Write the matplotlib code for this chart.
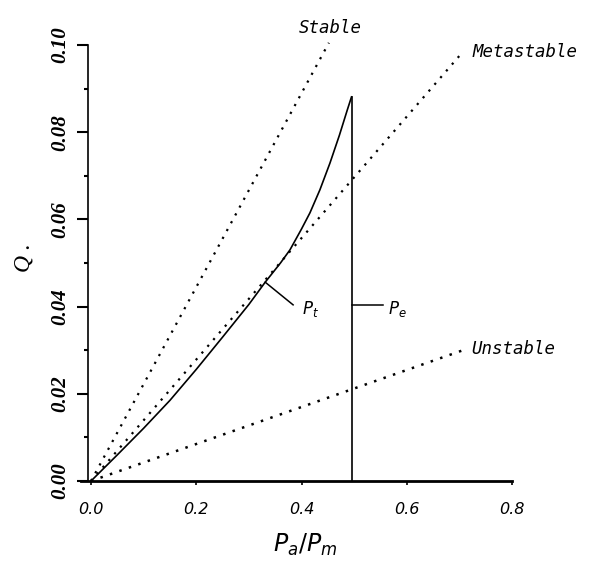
import matplotlib
matplotlib.use("Agg")
import matplotlib.pyplot as plt
from matplotlib.ticker import MultipleLocator

# ---- data ----
curve_x = [0.0, 0.05, 0.10, 0.15, 0.20, 0.25, 0.30, 0.331, 0.36, 0.378, 0.40,
           0.416, 0.435, 0.454, 0.472, 0.487, 0.495]
curve_y = [0.0, 0.0060, 0.0121, 0.0185, 0.0256, 0.0330, 0.0405, 0.0456, 0.0500,
           0.0530, 0.0578, 0.0615, 0.0668, 0.0729, 0.0793, 0.0851, 0.0881]

pe_x = [0.495, 0.495]
pe_y = [0.0, 0.0881]

stable_x = [0.0, 0.452]
stable_y = [0.0, 0.1005]
metastable_x = [0.0, 0.70]
metastable_y = [0.0, 0.0975]
unstable_x = [0.0, 0.707]
unstable_y = [0.0, 0.0300]

x_ticks = [0.0, 0.2, 0.4, 0.6, 0.8]
x_ticklabels = ["0.0", "0.2", "0.4", "0.6", "0.8"]
y_ticks = [0.00, 0.02, 0.04, 0.06, 0.08, 0.10]
y_ticklabels = ["0.00", "0.02", "0.04", "0.06", "0.08", "0.10"]

# ---- figure ----
fig = plt.figure(figsize=(5.97, 5.71), dpi=100)
W, H = 597, 571
ax = fig.add_axes([80.5 / W, 90 / H, (512 - 80.5) / W, (481 - 45) / H])
ax.set_xlim(-0.02, 0.80)
ax.set_ylim(0.0, 0.10)

dot = (0, (1, 3))
ax.plot(stable_x, stable_y, color="black", lw=1.6, linestyle=dot, clip_on=False)
ax.plot(metastable_x, metastable_y, color="black", lw=1.6, linestyle=dot, clip_on=False)
ax.plot(unstable_x, unstable_y, color="black", lw=1.8, linestyle=dot, clip_on=False)
ax.plot(curve_x, curve_y, color="black", lw=1.2, clip_on=False)
ax.plot(pe_x, pe_y, color="black", lw=1.2, clip_on=False)

# annotations
ax.plot([0.331, 0.384], [0.0456, 0.0404], color="black", lw=1.1)
ax.text(0.400, 0.0395, "$P_t$", fontsize=12, ha="left", va="center")
ax.plot([0.495, 0.555], [0.0404, 0.0404], color="black", lw=1.1)
ax.text(0.565, 0.0395, "$P_e$", fontsize=12, ha="left", va="center")

lab_kw = dict(fontsize=12.5, family="DejaVu Sans Mono", style="italic",
              ha="center", va="center")
ax.text(0.454, 0.1039, "Stable", **lab_kw)
ax.text(0.825, 0.0984, "Metastable", **lab_kw)
ax.text(0.802, 0.0303, "Unstable", **lab_kw)

# spines
for s in ("top", "right"):
    ax.spines[s].set_visible(False)
ax.spines["left"].set_position(("data", -0.006))
ax.spines["left"].set_linewidth(1.2)
ax.spines["bottom"].set_linewidth(2.0)

# ticks
ax.set_xticks(x_ticks)
ax.set_xticklabels(x_ticklabels, fontsize=11.5, style="italic", family="DejaVu Sans")
ax.tick_params(axis="x", length=3, width=1.2, pad=12, direction="out")
ax.set_yticks(y_ticks)
ax.set_yticklabels(y_ticklabels, rotation=90, va="center", fontsize=15,
                   family="Liberation Serif", weight="bold", style="italic")
ax.yaxis.set_minor_locator(MultipleLocator(0.01))
ax.tick_params(axis="y", which="major", length=8, width=1.5, pad=5, direction="out")
ax.tick_params(axis="y", which="minor", length=3, width=1.5, direction="out")

ax.set_xlabel("$P_a/P_m$", fontsize=17, labelpad=18)
ax.xaxis.set_label_coords((305 - 80.5) / (512 - 80.5), -(545 - 481) / (481 - 45))
ax.xaxis.label.set_va("center")

fig.text(24 / W, 1 - 258 / H, "Q .", rotation=90, fontsize=17,
         family="Liberation Serif", style="italic", ha="center", va="center")

fig.savefig("out.png", dpi=100)
